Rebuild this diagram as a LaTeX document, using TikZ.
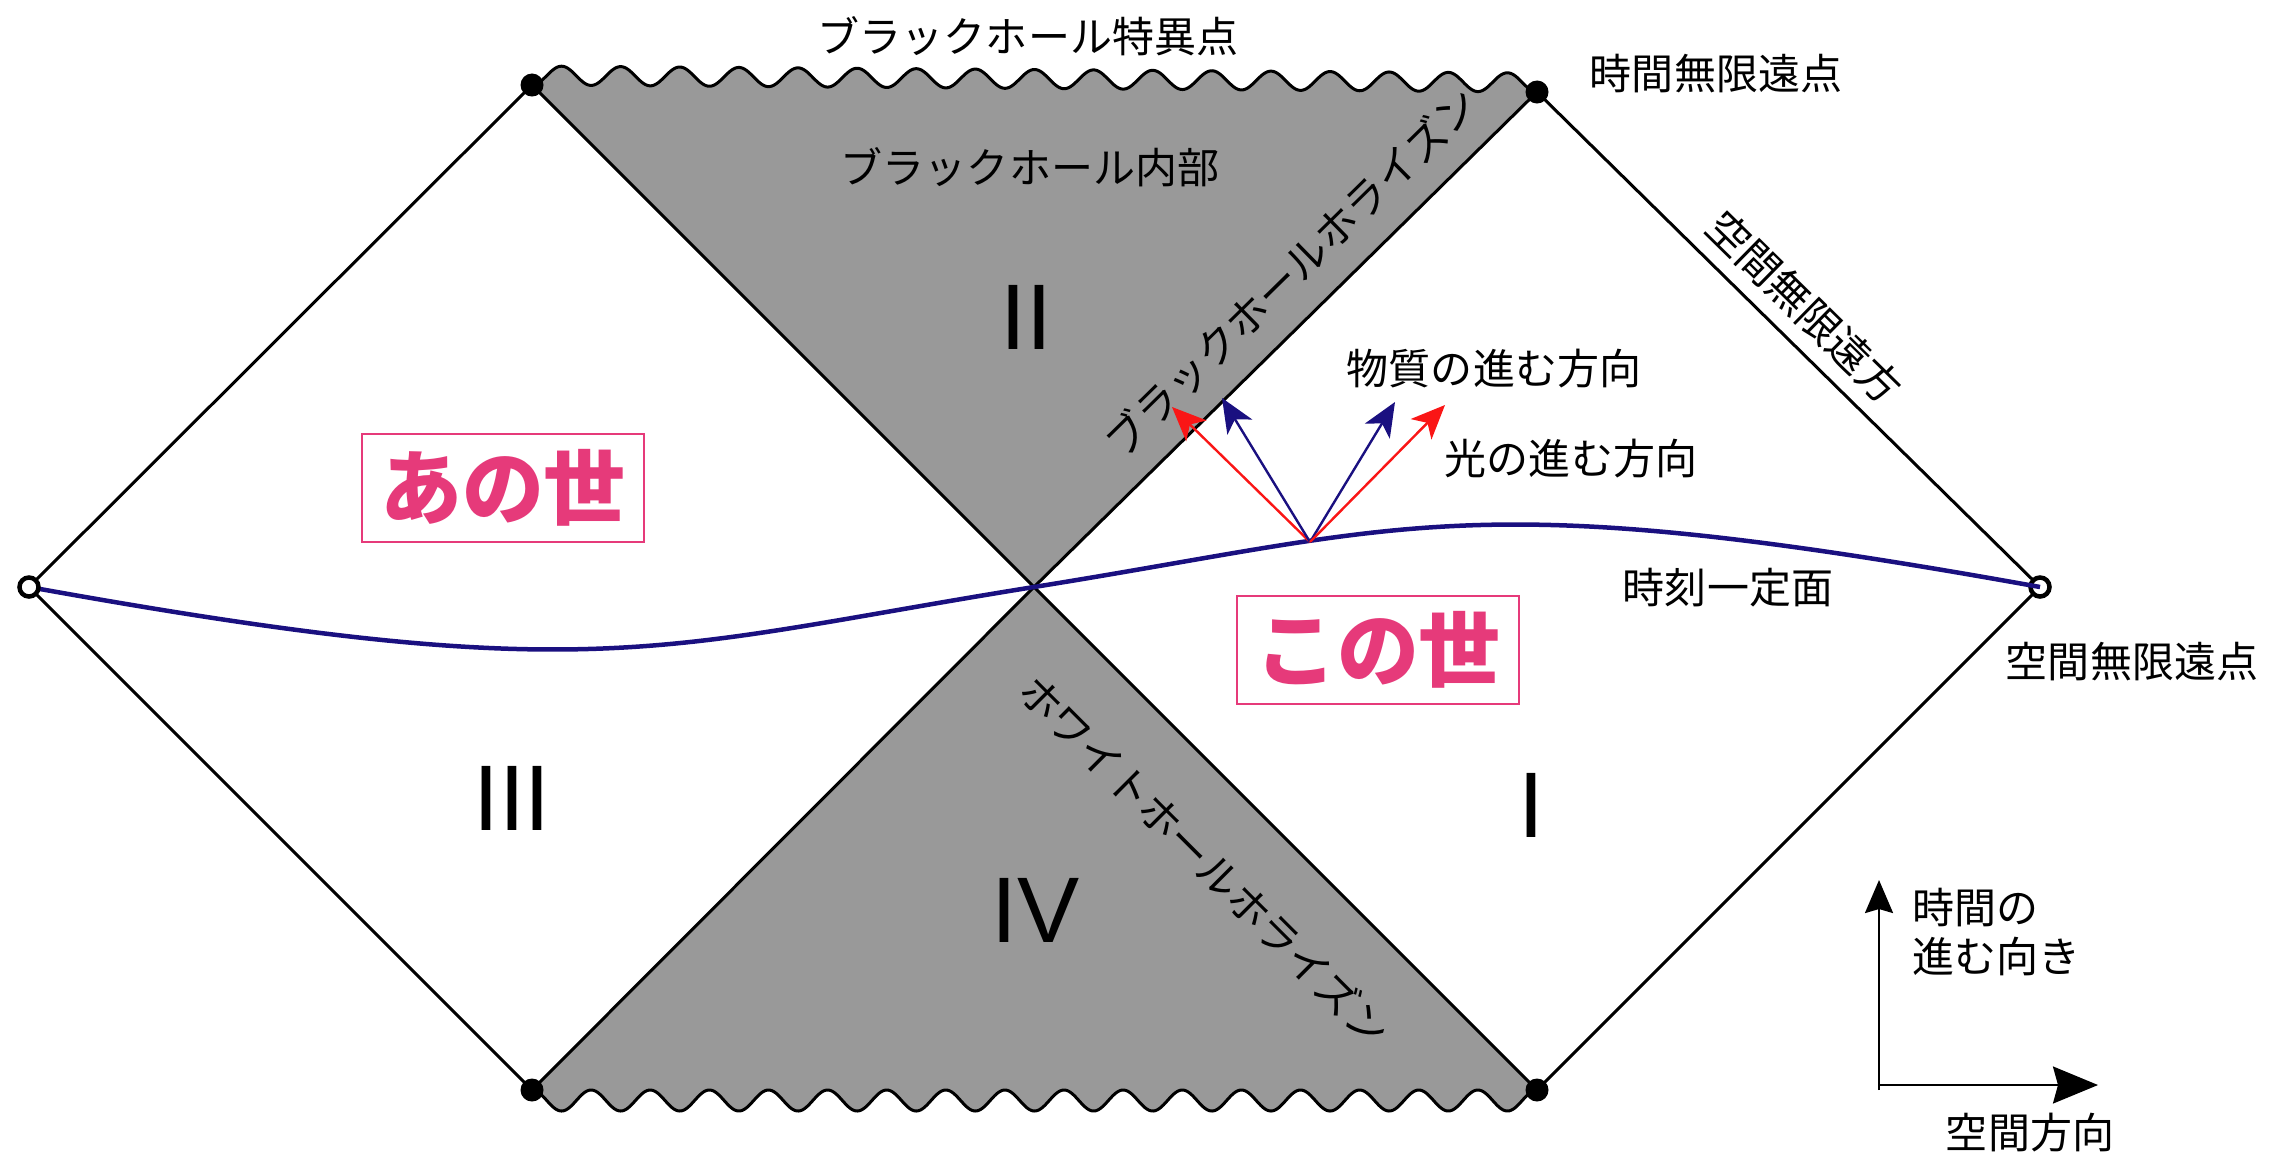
\documentclass[tikz,border=0pt]{standalone}
\usepackage{fontspec}
\setmainfont{Liberation Sans}
\newfontfamily\jp{Noto Sans CJK JP}
\usetikzlibrary{arrows.meta}
\definecolor{hgray}{RGB}{153,153,153}
\definecolor{navyc}{RGB}{26,16,128}
\definecolor{lredc}{RGB}{250,22,22}
\definecolor{pinkc}{RGB}{230,58,122}
\begin{document}
\begin{tikzpicture}[x=0.01cm,y=-0.01cm,
  edge/.style={line width=0.03cm, black, line join=round},
  lbl/.style={font=\jp\fontsize{11.95}{14.2}\selectfont, inner sep=0pt},
  num/.style={font=\fontsize{26.5}{30}\selectfont, inner sep=0pt},
  world/.style={draw=pinkc, fill=white, line width=0.02cm, text=pinkc,
    font=\jp\bfseries\fontsize{23.3}{26}\selectfont,
    minimum width=2.82cm, minimum height=1.08cm, inner sep=0pt},
  dotb/.style={circle, fill=black, minimum size=0.23cm, inner sep=0pt},
  doto/.style={circle, draw=black, fill=white, line width=0.045cm, minimum size=0.19cm, inner sep=0pt},
  colarrow/.style={line width=0.024cm, -{Stealth[length=0.34cm,width=0.29cm,inset=0.09cm]}},
  axis/.style={line width=0.022cm, black}
]
\useasboundingbox (0,0) rectangle (2282,1154);
\coordinate (L) at (29,587);
\coordinate (TL) at (532,85);
\coordinate (C) at (1034,587);
\coordinate (TR) at (1537,92);
\coordinate (R) at (2040,587);
\coordinate (BL) at (532,1090);
\coordinate (BR) at (1537,1090);

% gray regions
\fill[hgray] (TL) -- plot[domain=0:1, samples=681, variable=\t] ({532+1005*\t},{85+7*\t-9.5*(1-cos(6120*\t))}) -- (TR) -- (C) -- cycle;
\fill[hgray] (BL) -- plot[domain=0:1, samples=681, variable=\t] ({532+1005*\t},{1090+10.5*(1-cos(6120*\t))}) -- (BR) -- (C) -- cycle;

% edges
\draw[edge] (L) -- (TL) -- (C) -- (BR);
\draw[edge] (L) -- (BL) -- (C) -- (TR) -- (R) -- (BR);
\draw[edge] plot[domain=0:1, samples=681, variable=\t] ({532+1005*\t},{85+7*\t-9.5*(1-cos(6120*\t))});
\draw[edge] plot[domain=0:1, samples=681, variable=\t] ({532+1005*\t},{1090+10.5*(1-cos(6120*\t))});

% points
\node[dotb] (pTL) at (TL) {};
\node[dotb] (pTR) at (TR) {};
\node[dotb] (pBL) at (BL) {};
\node[dotb] (pBR) at (BR) {};
\node[doto] (pR) at (R) {};

% time slice
\draw[navyc, line width=0.045cm] (L) .. controls (599,690) and (654,648) .. (C) .. controls (1414,526) and (1469,484) .. (R);
\node[doto] (pL) at (L) {};

% light and matter arrows
\coordinate (O) at (1310,542);
\coordinate (rl) at (1172,407);
\coordinate (bl) at (1222,398);
\coordinate (br) at (1395,402);
\coordinate (rr) at (1445,405);
\draw[colarrow, lredc] (O) -- (rl);
\draw[colarrow, navyc] (O) -- (bl);
\draw[colarrow, navyc] (O) -- (br);
\draw[colarrow, lredc] (O) -- (rr);

% labels
\node[lbl] (tSing) at (1028,36) {ブラックホール特異点};
\node[lbl] (tIn) at (1030,167) {ブラックホール内部};
\node[lbl] (tTinf) at (1716,74) {時間無限遠点};
\node[lbl] (tSinfp) at (2132,662) {空間無限遠点};
\node[lbl] (tSlice) at (1728,588) {時刻一定面};
\node[lbl] (tLight) at (1571,459) {光の進む方向};
\node[lbl] (tMat) at (1494,369) {物質の進む方向};
\node[lbl, rotate=-44.5] (tSinf) at (1805,307) {空間無限遠方};
\node[lbl, rotate=44.5] (tBH) at (1291,272) {ブラックホールホライズン};
\node[lbl, rotate=-45] (tWH) at (1205,860) {ホワイトホールホライズン};

\node[num] (n2) at (1026,317) {II};
\node[num] (n3) at (512,798) {III};
\node[num] (n4) at (1036,910) {IV};
\node[num] (n1) at (1531,805) {I};

\node[world] (ano) at (503,488) {あの世};
\node[world] (kono) at (1378,650) {この世};

% axes
\coordinate (ax0) at (1879,1090);
\coordinate (axc) at (1879,1085);
\coordinate (axT) at (1879,880);
\coordinate (axS) at (2098,1085);
\draw[axis, -{Stealth[length=0.33cm,width=0.28cm,inset=0.04cm]}] (ax0) -- (axT);
\draw[axis, -{Stealth[length=0.45cm,width=0.37cm,inset=0.05cm]}] (axc) -- (axS);
\node[lbl, align=left, anchor=west] (tTime) at (1912,932) {時間の\\進む向き};
\node[lbl] (tSpace) at (2030,1133) {空間方向};
\end{tikzpicture}
\end{document}
